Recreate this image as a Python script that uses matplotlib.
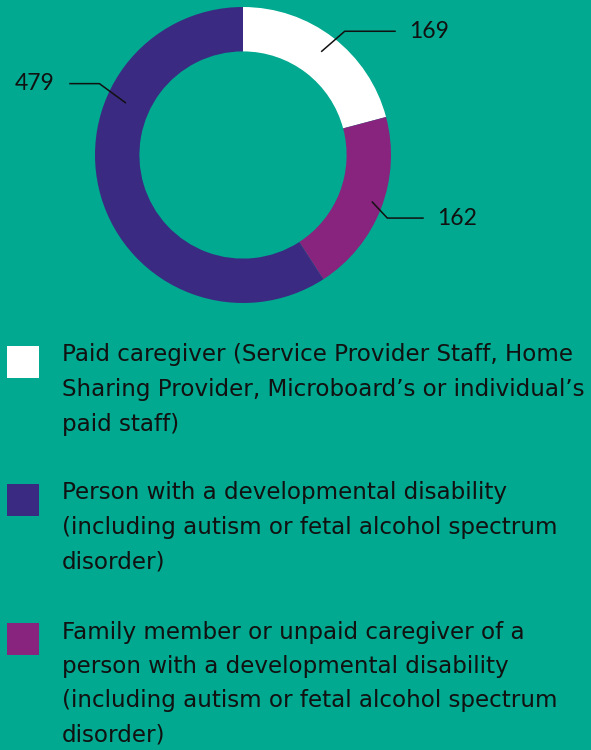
import numpy as np
import matplotlib.pyplot as plt
from matplotlib.patches import Rectangle

# chart data
categories = [
    "Paid caregiver (Service Provider Staff, Home\nSharing Provider, Microboard\u2019s or individual\u2019s\npaid staff)",
    "Person with a developmental disability\n(including autism or fetal alcohol spectrum\ndisorder)",
    "Family member or unpaid caregiver of a\nperson with a developmental disability\n(including autism or fetal alcohol spectrum\ndisorder)",
]
counts = [169, 479, 162]
colors = ["#ffffff", "#3b2a81", "#88237e"]
# drawing order around the ring (clockwise from top)
ring_order = [0, 2, 1]

bg = "#00a98f"
W, H = 591, 750

fig = plt.figure(figsize=(W / 100, H / 100), dpi=100, facecolor=bg)
ax = fig.add_axes([0, 0, 1, 1])

cx, cy, R = 243, H - 155, 148
vals = [counts[i] for i in ring_order]
cols = [colors[i] for i in ring_order]
ax.pie(vals, colors=cols, startangle=90, counterclock=False,
       center=(cx, cy), radius=R,
       wedgeprops=dict(width=R * 0.30, linewidth=0))

ax.set_xlim(0, W)
ax.set_ylim(0, H)
ax.set_aspect("equal")
ax.axis("off")

# leader lines: anchor (angle deg, radius frac), elbow offset, line end x, text side
leaders = {
    0: (52.8, 0.88, (23, 20), 395, "left"),
    2: (-20, 0.93, (15, -16), 423, "left"),
    1: (156, 0.87, (-26, 19), 70, "right"),
}
num_font = dict(family=["Lato", "DejaVu Sans"], fontsize=16.5, color="#111111")
for i, (ang, rf, (ex, ey), xend, side) in leaders.items():
    a = np.deg2rad(ang)
    x0 = cx + R * rf * np.cos(a)
    y0 = cy + R * rf * np.sin(a)
    x1, y1 = x0 + ex, y0 + ey
    ax.plot([x0, x1, xend], [y0, y1, y1], color="#111111", lw=1.1)
    if side == "left":
        ax.text(xend + 14, y1, str(counts[i]), ha="left", va="center", **num_font)
    else:
        ax.text(xend - 16, y1, str(counts[i]), ha="right", va="center", **num_font)

# legend
block_top = [355, 493, 632]
line_gap = 34.5
leg_font = dict(family=["DejaVu Sans"], fontsize=16.6, color="#111111")
for i, label in enumerate(categories):
    y = block_top[i]
    ax.add_patch(Rectangle((7, H - (y - 9) - 32), 32, 32,
                           facecolor=colors[i], edgecolor="none"))
    for j, line in enumerate(label.split("\n")):
        ax.text(62, H - (y + j * line_gap), line, ha="left", va="center", **leg_font)

fig.savefig("out.png", dpi=100, facecolor=bg)
